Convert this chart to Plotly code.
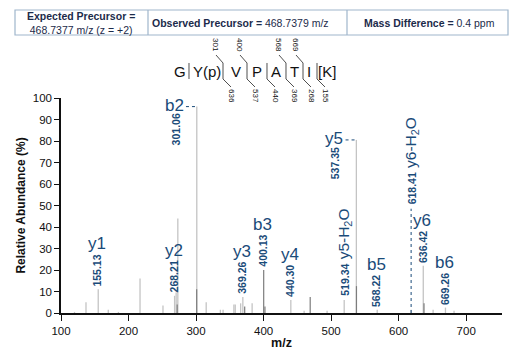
import plotly.graph_objects as go

# ---- spectrum peaks (m/z, relative abundance %) ----
light_mz = [120, 137, 155.13, 170, 185, 217, 251, 268.21, 270.5, 273, 301.06, 315,
            336, 340, 356, 358, 366, 369.26, 383, 440.30, 460, 494, 519.34, 537.35,
            568.22, 618.41, 636.42, 651, 669.26, 682]
light_int = [0.5, 5, 11, 1.5, 0.5, 16, 3.5, 8, 9.5, 44, 96, 5,
             1.5, 1.5, 4, 4, 4.5, 7.5, 4.5, 6, 1, 1, 6, 80.5,
             1.5, 1.5, 22, 1.5, 2.5, 1]
dark_mz = [272, 300.9, 372, 400.13, 402, 469, 537.5, 637.5]
dark_int = [4, 11, 3, 20, 3, 7.5, 12.5, 4.5]

# ---- annotated fragment ions ----
ion_names = ["y1", "y2", "b2", "y3", "b3", "y4", "y5", "b5", "y6", "b6"]
ion_mz = [155.13, 268.21, 301.06, 369.26, 400.13, 440.30, 537.35, 568.22, 636.42, 669.26]
ion_int = [11, 8, 96, 7.5, 20, 6, 80.5, 1.5, 22, 2.5]
water_names = ["y5-H<sub>2</sub>O", "y6-H<sub>2</sub>O"]
water_mz = [519.34, 618.41]
water_int = [6, 1.5]

# ---- peptide sequence and fragment map ----
residues = ["G", "Y(p)", "V", "P", "A", "T", "I", "[K]"]
b_ticks = ["", "301", "400", "", "568", "669", ""]
y_ticks = ["", "636", "537", "440", "369", "268", "155"]

x_ticks = [100, 200, 300, 400, 500, 600, 700]
y_ticks_axis = [0, 10, 20, 30, 40, 50, 60, 70, 80, 90, 100]

NAVY = "#1a4b79"
SANS = "Liberation Sans, Arial, sans-serif"

W, H = 520, 350
PL, PR, PT, PB = 61, 502, 98, 313


def px(x):
    return (x - PL) / (PR - PL)


def py(y):
    return (PB - y) / (PB - PT)


def sticks(mz, inten):
    xs, ys = [], []
    for m, v in zip(mz, inten):
        xs += [m, m, None]
        ys += [0, v, None]
    return xs, ys


fig = go.Figure()
lx, ly = sticks(light_mz, light_int)
fig.add_trace(go.Scatter(x=lx, y=ly, mode="lines", line=dict(color="#c4c4c4", width=1.3),
                         hoverinfo="skip", showlegend=False))
dx, dy = sticks(dark_mz, dark_int)
fig.add_trace(go.Scatter(x=dx, y=dy, mode="lines", line=dict(color="#7d7d7d", width=1.2),
                         hoverinfo="skip", showlegend=False))

ann = []
shapes = []

# ion labels stacked above their peaks
for name, m, v in zip(ion_names, ion_mz, ion_int):
    if name in ("b2", "y5"):
        # tall peaks: label sits to the left with a dotted leader
        ann.append(dict(x=m, y=v, xref="x", yref="y", text=name, showarrow=False,
                        xanchor="right", yanchor="middle", xshift=-11, yshift=1,
                        font=dict(family=SANS, size=17, color=NAVY)))
        ann.append(dict(x=m, y=v, xref="x", yref="y", text="<b>%.2f</b>" % m, showarrow=False,
                        textangle=-90, xanchor="center", yanchor="top", xshift=-21, yshift=-5,
                        font=dict(family=SANS, size=10.5, color=NAVY)))
        shapes.append(dict(type="line", xref="x", yref="y", x0=m - 16, x1=m, y0=v, y1=v,
                           line=dict(color=NAVY, width=1, dash="dot")))
    else:
        ann.append(dict(x=m, y=v, xref="x", yref="y", text="<b>%.2f</b>" % m, showarrow=False,
                        textangle=-90, xanchor="center", yanchor="bottom", xshift=-1, yshift=1,
                        font=dict(family=SANS, size=10.5, color=NAVY)))
        ann.append(dict(x=m, y=v, xref="x", yref="y", text=name, showarrow=False,
                        xanchor="center", yanchor="bottom", xshift=-1, yshift=34,
                        font=dict(family=SANS, size=17, color=NAVY)))

# water-loss labels: value and name on one rotated line
for name, m, v in zip(water_names, water_mz, water_int):
    lift = 0 if m < 600 else 47
    ann.append(dict(x=m, y=v + lift, xref="x", yref="y",
                    text="<span style='font-size:10.5px'><b>%.2f</b></span> %s" % (m, name),
                    showarrow=False, textangle=-90, xanchor="center", yanchor="bottom",
                    xshift=0, yshift=2, font=dict(family=SANS, size=15.5, color=NAVY)))
    if lift:
        shapes.append(dict(type="line", xref="x", yref="y", x0=m, x1=m, y0=0, y1=v + lift,
                           line=dict(color=NAVY, width=1, dash="dot")))

# header table
TY0, TY1 = 10, 35
shapes.append(dict(type="rect", xref="paper", yref="paper", x0=px(15), x1=px(508),
                   y0=py(TY1), y1=py(TY0), line=dict(color="#9fb6cc", width=1.2)))
for xd in (148, 347):
    shapes.append(dict(type="line", xref="paper", yref="paper", x0=px(xd), x1=px(xd),
                       y0=py(TY1), y1=py(TY0), line=dict(color="#9fb6cc", width=1.2)))
HDR = "#1c2b4a"
ann.append(dict(x=px(81), y=py(22.5), xref="paper", yref="paper", showarrow=False,
                text="<b>Expected Precursor =</b><br>468.7377 m/z (z = +2)",
                font=dict(family=SANS, size=10.5, color=HDR), xanchor="center", yanchor="middle"))
ann.append(dict(x=px(240), y=py(22.5), xref="paper", yref="paper", showarrow=False,
                text="<b>Observed Precursor =</b> 468.7379 m/z",
                font=dict(family=SANS, size=10.5, color=HDR), xanchor="center", yanchor="middle"))
ann.append(dict(x=px(429), y=py(22.5), xref="paper", yref="paper", showarrow=False,
                text="<b>Mass Difference =</b> 0.4 ppm",
                font=dict(family=SANS, size=10.5, color=HDR), xanchor="center", yanchor="middle"))

# peptide sequence with fragment cleavage marks
res_x = [180, 207, 236, 257, 276, 294, 309, 327]
gap_x = [189, 223, 247, 267, 286, 303, 317]
LET_Y = 71
for r, xc in zip(residues, res_x):
    ann.append(dict(x=px(xc), y=py(LET_Y), xref="paper", yref="paper", text=r, showarrow=False,
                    xanchor="center", yanchor="middle", font=dict(family=SANS, size=15, color="#111111")))
for i, g in enumerate(gap_x):
    top, bot = b_ticks[i], y_ticks[i]
    if top:
        path = "M %f,%f L %f,%f L %f,%f " % (px(g - 7), py(55), px(g), py(63), px(g), py(79))
    else:
        path = "M %f,%f L %f,%f " % (px(g), py(63), px(g), py(79))
    if bot:
        path += "L %f,%f" % (px(g + 8), py(87))
    shapes.append(dict(type="path", xref="paper", yref="paper", path=path,
                       line=dict(color="#222222", width=0.8)))
    if top:
        ann.append(dict(x=px(g - 8), y=py(54), xref="paper", yref="paper", text=top,
                        showarrow=False, textangle=90, xanchor="center", yanchor="bottom",
                        font=dict(family=SANS, size=8, color="#111111")))
    if bot:
        ann.append(dict(x=px(g + 9), y=py(87), xref="paper", yref="paper", text=bot,
                        showarrow=False, textangle=90, xanchor="center", yanchor="top",
                        font=dict(family=SANS, size=8, color="#111111")))

fig.update_layout(
    width=W, height=H,
    margin=dict(l=PL, r=W - PR, t=PT, b=H - PB),
    paper_bgcolor="white", plot_bgcolor="white",
    annotations=ann, shapes=shapes,
    xaxis=dict(range=[100, 753], tickvals=x_ticks, ticks="outside", ticklen=6, tickwidth=1.2,
               tickcolor="#111111", showline=True, linecolor="#111111", linewidth=1.5,
               showgrid=False, zeroline=False, automargin=False,
               tickfont=dict(family=SANS, size=11.5, color="#111111"),
               title=dict(text="<b>m/z</b>", font=dict(family=SANS, size=12.5, color="#111111"),
                          standoff=3)),
    yaxis=dict(range=[0, 100], tickvals=y_ticks_axis, ticks="outside", ticklen=5, tickwidth=1.2,
               tickcolor="#111111", showline=True, linecolor="#111111", linewidth=1.5,
               showgrid=False, zeroline=False, automargin=False,
               tickfont=dict(family=SANS, size=11.5, color="#111111"),
               title=dict(text="<b>Relative Abundance (%)</b>",
                          font=dict(family=SANS, size=12, color="#111111"), standoff=5)),
)

fig.write_html("out.html")
